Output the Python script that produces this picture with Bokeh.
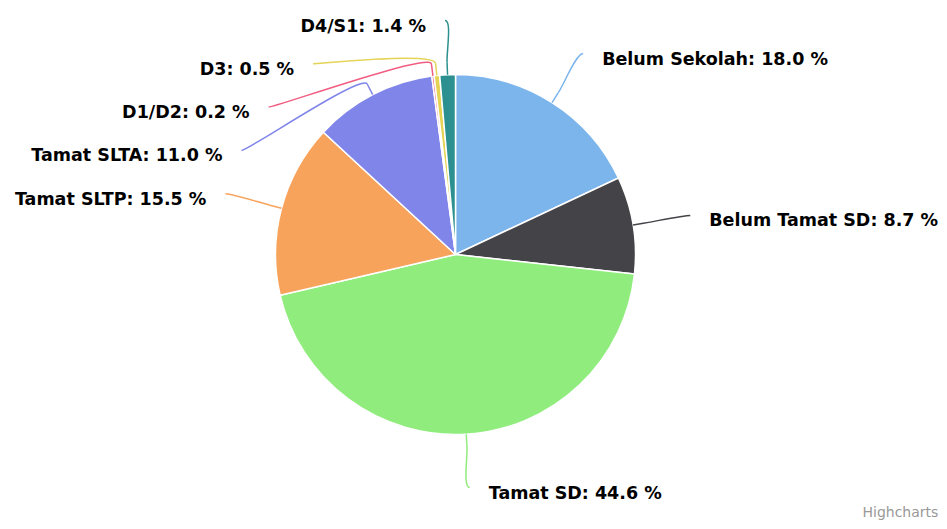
import math
from bokeh.plotting import figure
from bokeh.models import Range1d, ColumnDataSource, Label
from bokeh.embed import file_html
from bokeh.resources import INLINE
from bokeh.core.properties import value

# ---------------- data ----------------
categories = ["Belum Sekolah", "Belum Tamat SD", "Tamat SD", "Tamat SLTP",
              "Tamat SLTA", "D1/D2", "D3", "D4/S1"]
percentages = [18.0, 8.7, 44.6, 15.5, 11.0, 0.2, 0.5, 1.4]
colors = ["#7cb5ec", "#434348", "#90ed7d", "#f7a35c",
          "#8085e9", "#f15c80", "#e4d354", "#2b908f"]

# ---------------- layout (pixels) ----------------
W, H = 939, 521
CX, CY = 455, 254          # pie centre in figure pixels (from left / from top)
R = 180                    # pie radius
LABEL_R = 238              # radius of the label ring
SLOT = 43.3                # vertical slot per label
TOP, BOTTOM = 20, 487      # bounds for label anchors
OFFSET = 12                # connector straight part
SOFT = 7                   # horizontal control arm next to label
GAP = 19                   # gap between connector end and text
FONT = "DejaVu Sans"
FONT_SIZE = "17.5px"

total = sum(percentages)
fracs = [v / total for v in percentages]
starts, ends = [], []
acc = 0.0
for f in fracs:
    starts.append(acc * 2 * math.pi)
    acc += f
    ends.append(acc * 2 * math.pi)
mids = [(a + b) / 2 for a, b in zip(starts, ends)]

p = figure(width=W, height=H, output_backend="svg", toolbar_location=None,
           x_range=Range1d(-CX, W - CX), y_range=Range1d(-(H - CY), CY),
           min_border=0, min_border_left=0, min_border_right=0,
           min_border_top=0, min_border_bottom=0)
p.axis.visible = False
p.grid.visible = False
p.outline_line_color = None
p.background_fill_color = "white"
p.border_fill_color = "white"

# wedges (clockwise from 12 o'clock)
src = ColumnDataSource(dict(
    start=[math.pi / 2 - e for e in ends],
    end=[math.pi / 2 - s for s in starts],
    color=colors, name=categories))
p.wedge(x=0, y=0, radius=R, start_angle="start", end_angle="end",
        fill_color="color", line_color="white", line_width=1.5, source=src)


def distribute(items, slot, top, bottom):
    groups = [{"idx": [i], "t": [t]} for t, i in items]

    def place(g):
        n = len(g["t"])
        s = sum(g["t"]) / n - (n - 1) * slot / 2
        s = max(top, min(s, bottom - (n - 1) * slot))
        g["s"] = s

    for g in groups:
        place(g)
    merged = True
    while merged:
        merged = False
        for k in range(len(groups) - 1):
            a, b = groups[k], groups[k + 1]
            if b["s"] < a["s"] + len(a["t"]) * slot:
                a["idx"] += b["idx"]
                a["t"] += b["t"]
                place(a)
                del groups[k + 1]
                merged = True
                break
    out = {}
    for g in groups:
        for j, i in enumerate(g["idx"]):
            out[i] = g["s"] + j * slot
    return out


# natural label positions (figure px, y down)
nat_y = [CY - LABEL_R * math.cos(m) for m in mids]
right = [i for i, m in enumerate(mids) if m < math.pi]
left = [i for i, m in enumerate(mids) if m >= math.pi]
pos = {}
pos.update(distribute(sorted((nat_y[i], i) for i in right), SLOT, TOP, BOTTOM))
pos.update(distribute(sorted((nat_y[i], i) for i in left), SLOT, TOP, BOTTOM))


def to_data(fx, fy):
    return fx - CX, CY - fy


bez = dict(x0=[], y0=[], x1=[], y1=[], cx0=[], cy0=[], cx1=[], cy1=[], color=[])
seg = dict(x0=[], y0=[], x1=[], y1=[], color=[])
txt_r = dict(x=[], y=[], text=[])
txt_l = dict(x=[], y=[], text=[])

for i, m in enumerate(mids):
    is_left = m >= math.pi
    y = pos[i]
    yy = nat_y[i] if (abs(y - TOP) < 1e-6 or abs(y - BOTTOM) < 1e-6) else y
    dx = math.sqrt(max(LABEL_R ** 2 - (yy - CY) ** 2, 0.0))
    x = CX - dx if is_left else CX + dx
    dirx, diry = math.sin(m), -math.cos(m)
    px, py = CX + R * dirx, CY + R * diry
    bx, by = px + OFFSET * dirx, py + OFFSET * diry
    c2x, c2y = bx + OFFSET * dirx, by + OFFSET * diry
    c1x = x + (SOFT if is_left else -SOFT)
    a, b = to_data(x, y)
    bez["x0"].append(a); bez["y0"].append(b)
    a, b = to_data(bx, by)
    bez["x1"].append(a); bez["y1"].append(b)
    a, b = to_data(c1x, y)
    bez["cx0"].append(a); bez["cy0"].append(b)
    a, b = to_data(c2x, c2y)
    bez["cx1"].append(a); bez["cy1"].append(b)
    bez["color"].append(colors[i])
    a, b = to_data(bx, by)
    c, d = to_data(px, py)
    seg["x0"].append(a); seg["y0"].append(b)
    seg["x1"].append(c); seg["y1"].append(d)
    seg["color"].append(colors[i])
    label = f"{categories[i]}: {percentages[i]:.1f} %"
    tx = x - GAP if is_left else x + GAP
    a, b = to_data(tx, y + 5)
    tgt = txt_l if is_left else txt_r
    tgt["x"].append(a); tgt["y"].append(b); tgt["text"].append(label)

p.bezier(x0="x0", y0="y0", x1="x1", y1="y1", cx0="cx0", cy0="cy0",
         cx1="cx1", cy1="cy1", line_color="color", line_width=1.5,
         source=ColumnDataSource(bez))
p.segment(x0="x0", y0="y0", x1="x1", y1="y1", line_color="color",
          line_width=1.5, source=ColumnDataSource(seg))

for d, align in [(txt_r, "left"), (txt_l, "right")]:
    p.text(x="x", y="y", text="text", source=ColumnDataSource(d),
           text_font=value(FONT), text_font_size=FONT_SIZE,
           text_font_style="bold", text_color="#000000",
           text_align=align, text_baseline="middle")

credit = Label(x=862, y=H - 511, x_units="screen", y_units="screen",
               text="Highcharts", text_font=FONT, text_font_size="14px",
               text_color="#999999", text_baseline="middle", text_align="left")
p.add_layout(credit)

open("out.html", "w").write(file_html(p, INLINE))
